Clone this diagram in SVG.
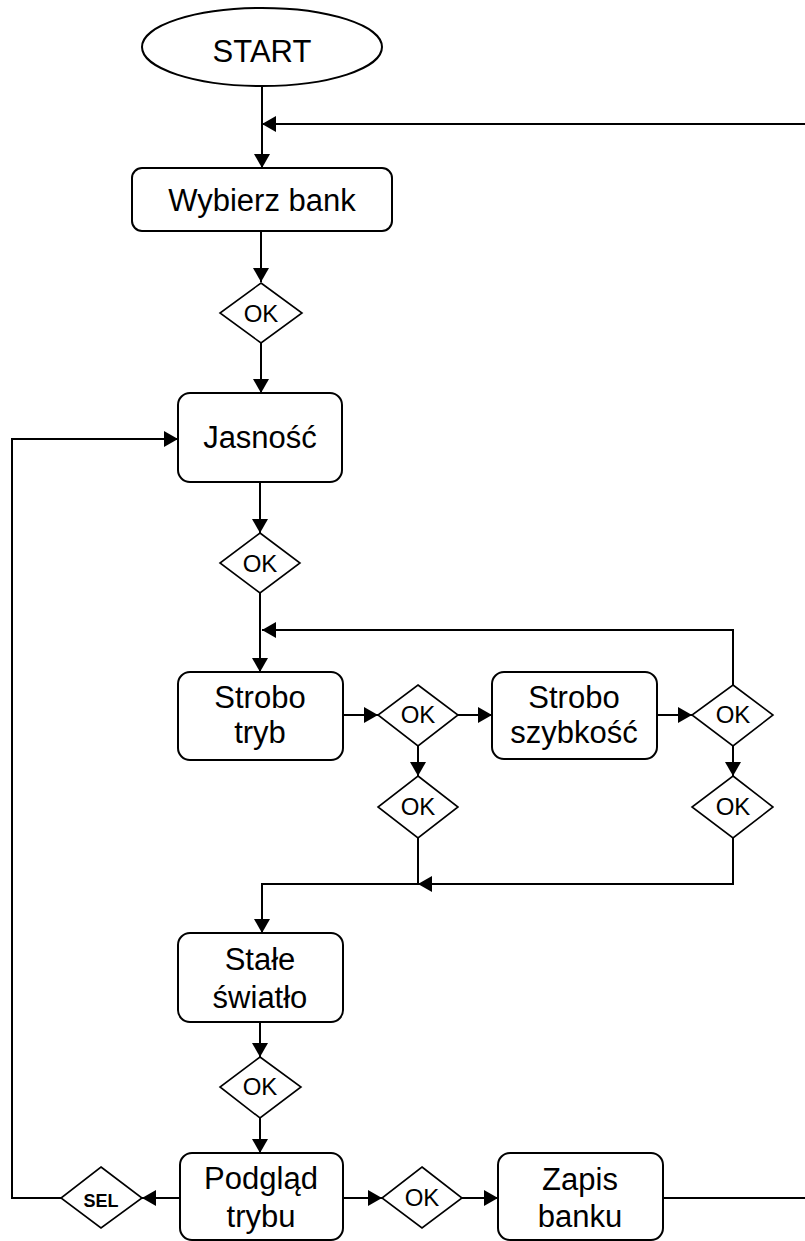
<svg xmlns="http://www.w3.org/2000/svg" width="805" height="1241" viewBox="0 0 805 1241">
<defs>
<style>
.box{fill:#fff;stroke:#000;stroke-width:2}
.dia{fill:#fff;stroke:#000;stroke-width:1.6}
.t{font-family:"Liberation Sans",Arial,sans-serif;font-size:31px;fill:#000;text-anchor:middle}
.ok{font-family:"Liberation Sans",Arial,sans-serif;font-size:24px;fill:#000;text-anchor:middle}
.sel{font-family:"Liberation Sans",Arial,sans-serif;font-size:18px;font-weight:bold;fill:#000;text-anchor:middle}
.c{fill:none;stroke:#000;stroke-width:2}
</style>
<marker id="ah" markerUnits="userSpaceOnUse" markerWidth="14" markerHeight="16" refX="14" refY="8" orient="auto">
<path d="M0,0 L14,8 L0,16 z" fill="#000"/>
</marker>
</defs>
<g id="connectors">
<path class="c" d="M262,86 V168" marker-end="url(#ah)"/>
<path class="c" d="M805,124 H262" marker-end="url(#ah)"/>
<path class="c" d="M261,231 V282" marker-end="url(#ah)"/>
<path class="c" d="M261,343 V393" marker-end="url(#ah)"/>
<path class="c" d="M260,482 V533" marker-end="url(#ah)"/>
<path class="c" d="M260,593 V672" marker-end="url(#ah)"/>
<path class="c" d="M733,685 V630 H262" marker-end="url(#ah)"/>
<path class="c" d="M343,715 H378" marker-end="url(#ah)"/>
<path class="c" d="M458,715 H492" marker-end="url(#ah)"/>
<path class="c" d="M657,715 H692" marker-end="url(#ah)"/>
<path class="c" d="M418,746 V776" marker-end="url(#ah)"/>
<path class="c" d="M733,746 V776" marker-end="url(#ah)"/>
<path class="c" d="M733,838 V884 H418" marker-end="url(#ah)"/>
<path class="c" d="M418,838 V884 H262 V933" marker-end="url(#ah)"/>
<path class="c" d="M260,1022 V1057" marker-end="url(#ah)"/>
<path class="c" d="M260,1118 V1153" marker-end="url(#ah)"/>
<path class="c" d="M180,1198 H142" marker-end="url(#ah)"/>
<path class="c" d="M61,1198 H12 V439 H178" marker-end="url(#ah)"/>
<path class="c" d="M343,1198 H382" marker-end="url(#ah)"/>
<path class="c" d="M462,1198 H498" marker-end="url(#ah)"/>
<path class="c" d="M663,1198 H805"/>
</g>
<g id="start">
<ellipse class="box" cx="262" cy="47" rx="120" ry="39"/>
<text class="t" x="262" y="62">START</text>
</g>
<g id="wybierz">
<rect class="box" x="132" y="168" width="260" height="63" rx="10"/>
<text class="t" x="262" y="211">Wybierz bank</text>
</g>
<g id="ok1">
<polygon class="dia" points="261,283 302,313 261,343 220,313"/>
<text class="ok" x="261" y="322">OK</text>
</g>
<g id="jasnosc">
<rect class="box" x="178" y="393" width="164" height="89" rx="12"/>
<text class="t" x="260" y="448">Jasność</text>
</g>
<g id="ok2">
<polygon class="dia" points="260,533 300,563 260,593 220,563"/>
<text class="ok" x="260" y="572">OK</text>
</g>
<g id="strobo-tryb">
<rect class="box" x="178" y="672" width="165" height="88" rx="12"/>
<text class="t" x="260" y="708">Strobo</text>
<text class="t" x="260" y="743">tryb</text>
</g>
<g id="ok3">
<polygon class="dia" points="418,685 458,715 418,746 378,715"/>
<text class="ok" x="418" y="723">OK</text>
</g>
<g id="strobo-szybkosc">
<rect class="box" x="492" y="672" width="165" height="87" rx="12"/>
<text class="t" x="574" y="708">Strobo</text>
<text class="t" x="574" y="743">szybkość</text>
</g>
<g id="ok4">
<polygon class="dia" points="733,685 773,715 733,746 692,715"/>
<text class="ok" x="733" y="723">OK</text>
</g>
<g id="ok5">
<polygon class="dia" points="418,776 458,807 418,838 378,807"/>
<text class="ok" x="418" y="815">OK</text>
</g>
<g id="ok6">
<polygon class="dia" points="733,776 773,807 733,838 692,807"/>
<text class="ok" x="733" y="815">OK</text>
</g>
<g id="stale">
<rect class="box" x="178" y="933" width="165" height="89" rx="12"/>
<text class="t" x="260" y="970">Stałe</text>
<text class="t" x="260" y="1008">światło</text>
</g>
<g id="ok7">
<polygon class="dia" points="260,1057 301,1087 260,1118 220,1087"/>
<text class="ok" x="260" y="1095">OK</text>
</g>
<g id="podglad">
<rect class="box" x="180" y="1153" width="163" height="87" rx="12"/>
<text class="t" x="261" y="1189">Podgląd</text>
<text class="t" x="261" y="1227">trybu</text>
</g>
<g id="sel">
<polygon class="dia" points="101,1167 142,1198 101,1228 61,1198"/>
<text class="sel" x="101" y="1207">SEL</text>
</g>
<g id="ok8">
<polygon class="dia" points="422,1167 462,1198 422,1228 382,1198"/>
<text class="ok" x="422" y="1206">OK</text>
</g>
<g id="zapis">
<rect class="box" x="498" y="1153" width="165" height="87" rx="12"/>
<text class="t" x="580" y="1190">Zapis</text>
<text class="t" x="580" y="1227">banku</text>
</g>
</svg>
